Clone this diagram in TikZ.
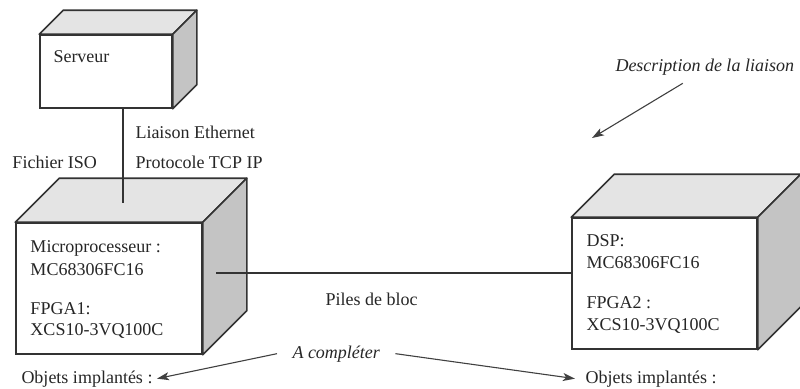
\documentclass[tikz,border=0pt]{standalone}
\usepackage{fontspec}
\setmainfont{Liberation Serif}
\usetikzlibrary{arrows.meta}

\definecolor{trait}{HTML}{333333}
\definecolor{dessus}{HTML}{E4E4E4}
\definecolor{cote}{HTML}{C4C4C4}

\begin{document}
\begin{tikzpicture}[x=1pt,y=-1pt,line width=1pt,>={Stealth[length=12pt,width=8pt,inset=3pt]},
  txt/.style={anchor=base west,inner sep=0pt,font=\fontsize{18}{22}\selectfont,text=black!85},
  ital/.style={txt,font=\fontsize{18}{22}\selectfont\itshape},
  face/.style={draw=trait,line width=1.6pt,fill=white,inner sep=0pt},
  volume/.style={draw=trait,line width=1.6pt,line join=round},
  lien/.style={draw=trait,line width=1.1pt},
  fleche/.style={->,draw=black!75,line width=1.1pt}]
  \useasboundingbox (0,0) rectangle (800,388);
  % faces avant des blocs
  \node[face,minimum width=132pt,minimum height=73pt] (srv) at (106,71.5) {};
  \node[face,minimum width=186pt,minimum height=131pt] (cpu) at (109,288.5) {};
  \node[face,minimum width=185pt,minimum height=131pt] (dsp) at (664.5,283.5) {};
  % dessus et cote en perspective
  \foreach \n/\d in {srv/24,cpu/44,dsp/43}{
    \draw[volume,fill=dessus] (\n.north west) -- ++(\d,-\d) -- ([shift={(\d,-\d)}]\n.north east) -- (\n.north east) -- cycle;
    \draw[volume,fill=cote] (\n.north east) -- ++(\d,-\d) -- ([shift={(\d,-\d)}]\n.south east) -- (\n.south east) -- cycle;
  }
  % liaisons
  \coordinate (cpudessus) at (123,203);
  \coordinate (cpucote) at (216,273);
  \draw[lien] (srv.south -| cpudessus) -- (cpudessus);
  \draw[lien] (cpucote) -- (cpucote -| dsp.west);
  % textes des blocs
  \node[txt] (tsrv) at (53,62) {Serveur};
  \node[txt] (tcpu1) at (30,252) {Microprocesseur :};
  \node[txt] (tcpu2) at (30,275) {MC68306FC16};
  \node[txt] (tcpu3) at (30,314) {FPGA1:};
  \node[txt] (tcpu4) at (30,335) {XCS10-3VQ100C};
  \node[txt] (tdsp1) at (586,246) {DSP:};
  \node[txt] (tdsp2) at (586,268) {MC68306FC16};
  \node[txt] (tdsp3) at (586,308) {FPGA2 :};
  \node[txt] (tdsp4) at (586,330) {XCS10-3VQ100C};
  % etiquettes des liaisons
  \node[txt] (iso) at (12,168) {Fichier ISO};
  \node[txt] (eth) at (135,138) {Liaison Ethernet};
  \node[txt] (tcp) at (135,168) {Protocole TCP IP};
  \node[txt] (piles) at (325,305) {Piles de bloc};
  % annotations
  \node[ital] (desc) at (615,71) {Description de la liaison};
  \node[ital] (cmpl) at (292,358) {A compléter};
  \node[txt] (obj1) at (21,383) {Objets implantés :};
  \node[txt] (obj2) at (585,383) {Objets implantés :};
  \draw[fleche] ([shift={(-22,8)}]desc.south) -- (592,138);
  \draw[fleche] ([xshift=-15pt]cmpl.west) -- ([xshift=4pt]obj1.east);
  \draw[fleche] ([xshift=15pt]cmpl.east) -- ([xshift=-10pt]obj2.west);
\end{tikzpicture}
\end{document}
